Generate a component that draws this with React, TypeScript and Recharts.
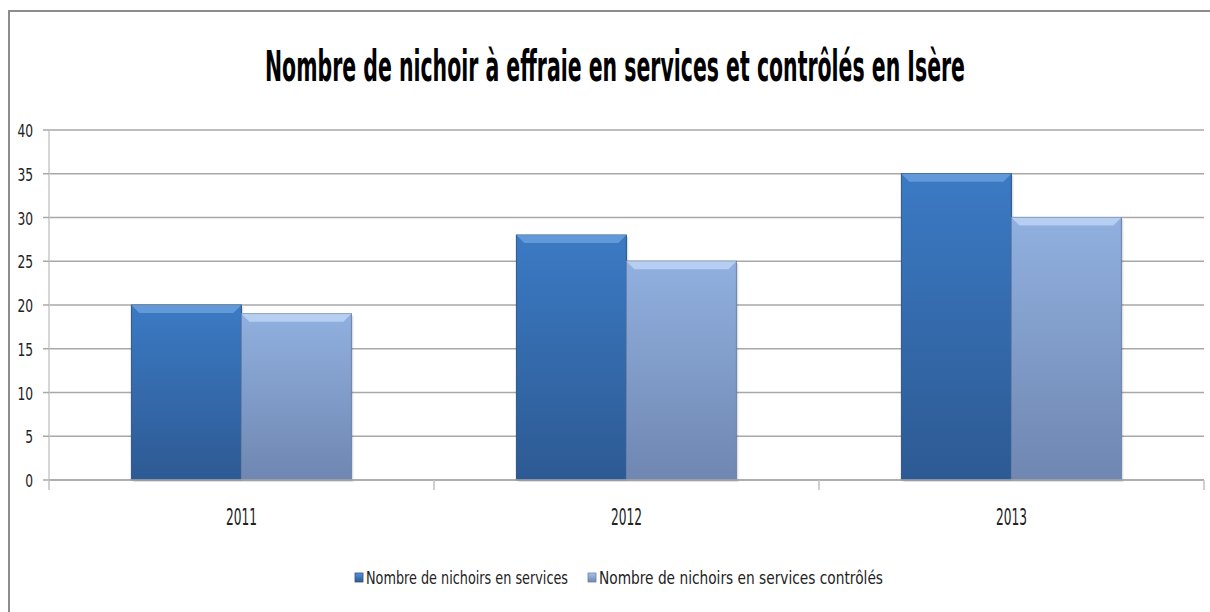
import React from "react";
import { BarChart, Bar, XAxis, YAxis, CartesianGrid } from "recharts";

const categories = ["2011", "2012", "2013"];
const enServices = [20, 28, 35];
const controles = [19, 25, 30];
const seriesNames = ["Nombre de nichoirs en services", "Nombre de nichoirs en services contrôlés"];
const yTicks = [0, 5, 10, 15, 20, 25, 30, 35, 40];
const title = "Nombre de nichoir à effraie en services et contrôlés en Isère";

const data = categories.map((c, i) => ({ year: c, a: enServices[i], b: controles[i] }));

const FONT = "'Liberation Sans Narrow', 'DejaVu Sans Condensed', 'Open Sans', sans-serif";

const makeShape = (grad: string, bevel: string, edge: string) => (props: any) => {
  const { x, y, width, height } = props;
  if (!height || height <= 0) return null;
  const b = Math.min(8, width / 6);
  return (
    <g>
      <rect x={x + 2} y={y + 2} width={width} height={height} fill="#000" opacity={0.12} />
      <rect x={x} y={y} width={width} height={height} fill={`url(#${grad})`} stroke={edge} strokeWidth={1} />
      <polygon
        points={`${x},${y} ${x + width},${y} ${x + width - b},${y + b} ${x + b},${y + b}`}
        fill={bevel}
        opacity={0.85}
      />
    </g>
  );
};

const DarkShape = makeShape("gDark", "#6a9fdc", "#2b5485");
const LightShape = makeShape("gLight", "#bcd4f4", "#6a82aa");

const XTick = (props: any) => {
  const { x, y, payload, index } = props;
  const off = payload.offset || 0;
  return (
    <g>
      <line x1={x - off} y1={y} x2={x - off} y2={y + 10} stroke="#c0c0c0" strokeWidth={1.5} />
      {index === categories.length - 1 && (
        <line x1={x + off} y1={y} x2={x + off} y2={y + 10} stroke="#c0c0c0" strokeWidth={1.5} />
      )}
      <text
        x={x}
        y={y + 45}
        textAnchor="middle"
        fontFamily={FONT}
        fontSize={23}
        fill="#222"
        textLength={String(payload.value).length * 7.75}
        lengthAdjust="spacingAndGlyphs"
      >
        {payload.value}
      </text>
    </g>
  );
};

const YTick = (props: any) => {
  const { x, y, payload } = props;
  const s = String(payload.value);
  return (
    <text
      x={x}
      y={y + 7}
      textAnchor="end"
      fontFamily={FONT}
      fontSize={18}
      fill="#222"
      textLength={s.length * 7.8}
      lengthAdjust="spacingAndGlyphs"
    >
      {s}
    </text>
  );
};

export default function App() {
  return (
    <div style={{ position: "absolute", left: 0, top: 0, width: 1210, height: 612, overflow: "hidden", background: "#fff" }}>
      <div
        style={{
          position: "absolute",
          left: 8,
          top: 10,
          width: 1400,
          height: 800,
          border: "2px solid #8c8c8c",
          boxSizing: "border-box",
        }}
      />
      <div style={{ position: "absolute", left: 0, top: 0 }}>
        <BarChart
          width={1210}
          height={612}
          data={data}
          margin={{ top: 130, right: 6, left: 9, bottom: 102 }}
          barGap={0}
          barCategoryGap="21.4%"
        >
          <defs>
            <linearGradient id="gDark" x1="0" y1="0" x2="0" y2="1">
              <stop offset="0%" stopColor="#3b7ac4" />
              <stop offset="100%" stopColor="#2d5a93" />
            </linearGradient>
            <linearGradient id="gLight" x1="0" y1="0" x2="0" y2="1">
              <stop offset="0%" stopColor="#91b0df" />
              <stop offset="100%" stopColor="#6f87b1" />
            </linearGradient>
          </defs>
          <CartesianGrid vertical={false} stroke="#a8a8a8" strokeWidth={1.5} />
          <XAxis
            dataKey="year"
            height={30}
            tickSize={0}
            tickMargin={0}
            axisLine={{ stroke: "#a8a8a8", strokeWidth: 1.5 }}
            tickLine={false}
            tick={<XTick />}
            interval={0}
          />
          <YAxis
            width={40}
            domain={[0, 40]}
            ticks={yTicks}
            interval={0}
            tickSize={6}
            tickMargin={10}
            axisLine={{ stroke: "#c8c8c8", strokeWidth: 1.5 }}
            tickLine={{ stroke: "#a8a8a8", strokeWidth: 1.5 }}
            tick={<YTick />}
          />
          <Bar dataKey="a" name={seriesNames[0]} fill="#3a75bd" shape={DarkShape} isAnimationActive={false} />
          <Bar dataKey="b" name={seriesNames[1]} fill="#8eacda" shape={LightShape} isAnimationActive={false} />
        </BarChart>
      </div>
      <svg width={1210} height={612} style={{ position: "absolute", left: 0, top: 0, pointerEvents: "none" }}>
        <defs>
          <linearGradient id="lgDark" x1="0" y1="0" x2="0" y2="1">
            <stop offset="0%" stopColor="#5a92d6" />
            <stop offset="100%" stopColor="#2d5a93" />
          </linearGradient>
          <linearGradient id="lgLight" x1="0" y1="0" x2="0" y2="1">
            <stop offset="0%" stopColor="#a9c2e8" />
            <stop offset="100%" stopColor="#6f87b1" />
          </linearGradient>
        </defs>
        <text
          x={615}
          y={81}
          textAnchor="middle"
          fontFamily={FONT}
          fontWeight="bold"
          fontSize={42}
          fill="#000"
          textLength={700}
          lengthAdjust="spacingAndGlyphs"
        >
          {title}
        </text>
        <rect x={355} y={573} width={8} height={9} fill="url(#lgDark)" stroke="#2b5485" strokeWidth={0.8} />
        <text x={366} y={584} fontFamily={FONT} fontSize={18} fill="#222" textLength={202} lengthAdjust="spacingAndGlyphs">
          {seriesNames[0]}
        </text>
        <rect x={588} y={573} width={8} height={9} fill="url(#lgLight)" stroke="#6a82aa" strokeWidth={0.8} />
        <text x={599} y={584} fontFamily={FONT} fontSize={18} fill="#222" textLength={284} lengthAdjust="spacingAndGlyphs">
          {seriesNames[1]}
        </text>
      </svg>
    </div>
  );
}
